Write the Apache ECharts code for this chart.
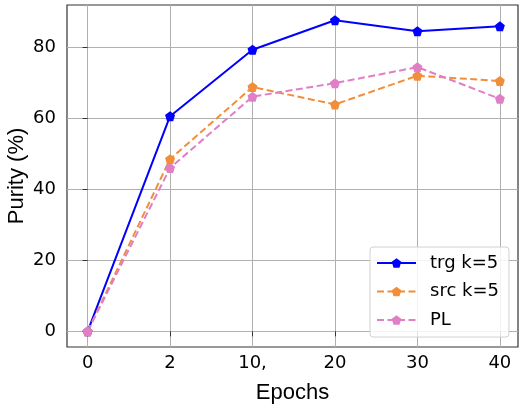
<!DOCTYPE html>
<html><head><meta charset="utf-8">
<script src="https://cdn.jsdelivr.net/npm/echarts@6/dist/echarts.min.js"></script>
<style>html,body{margin:0;padding:0;background:#fff}#c{width:520px;height:404px}</style>
</head><body><div id="c"></div>
<script>
const categories = ['0', '2', '10,', '20', '30', '40'];
const trg = [0, 60.6, 79.3, 87.6, 84.5, 85.9];
const src = [0, 48.5, 68.8, 63.9, 72.0, 70.5];
const pl = [0, 46.0, 66.1, 69.9, 74.4, 65.5];
const yTicks = [0, 20, 40, 60, 80];

const pent = 'path://M0,-1 L0.951,-0.309 L0.588,0.809 L-0.588,0.809 L-0.951,-0.309 Z';
const font = 'DejaVu Sans';
const labelFont = 'Liberation Sans';
function pts(arr){ return arr.map((v,i)=>[i,v]); }
function mk(name, data, color, dashed){
  return {
    name, type:'line', data: pts(data), symbol: pent, symbolSize: 10,
    itemStyle:{color}, lineStyle:{color, width:2, type: dashed ? [7,3.5] : 'solid'},
    emphasis:{disabled:true}, animation:false
  };
}
const chart = echarts.init(document.getElementById('c'), null, {renderer:'canvas'});
chart.setOption({
  animation:false,
  grid:{left:67, right:2, top:5, bottom:57, outerBoundsMode:'none', containLabel:false,
    show:true, borderColor:'#333', borderWidth:1.2, backgroundColor:'transparent'},
  xAxis:{
    type:'value', min:-0.25, max:5.22,
    name:'Epochs', nameLocation:'middle', nameGap:35, nameMoveOverlap:false,
    nameTextStyle:{fontFamily:labelFont, fontSize:22, color:'#000'},
    axisLine:{show:false},
    axisTick:{show:true, length:5, customValues:[0,1,2,3,4,5], lineStyle:{color:'#333'}},
    axisLabel:{customValues:[0,1,2,3,4,5], margin:7, fontFamily:font, fontSize:18, color:'#000',
      formatter:v=>categories[Math.round(v)]},
    splitLine:{show:true, lineStyle:{color:'#b0b0b0', width:1}}
  },
  yAxis:{
    type:'value', min:-4.4, max:91.9,
    name:'Purity (%)', nameLocation:'middle', nameGap:39, nameMoveOverlap:false,
    nameTextStyle:{fontFamily:labelFont, fontSize:22, color:'#000'},
    axisLine:{show:false},
    axisTick:{show:true, length:5, customValues:yTicks, lineStyle:{color:'#333'}},
    axisLabel:{customValues:yTicks, margin:11, fontFamily:font, fontSize:18, color:'#000'},
    splitLine:{show:true, lineStyle:{color:'#b0b0b0', width:1}}
  },
  legend:{
    orient:'vertical', left:370, top:247,
    padding:[6,10,7,6], itemWidth:39, itemHeight:12, itemGap:8.5,
    backgroundColor:'rgba(255,255,255,0.85)', borderColor:'#d0d0d0', borderWidth:1, borderRadius:3,
    textStyle:{fontFamily:font, fontSize:18, color:'#000', lineHeight:20, padding:[0,0,0,9]},
    data:['trg k=5','src k=5','PL']
  },
  series:[
    mk('trg k=5', trg, '#0000ff', false),
    mk('src k=5', src, '#f28e3a', true),
    mk('PL', pl, '#e07fc6', true)
  ]
});
</script></body></html>
